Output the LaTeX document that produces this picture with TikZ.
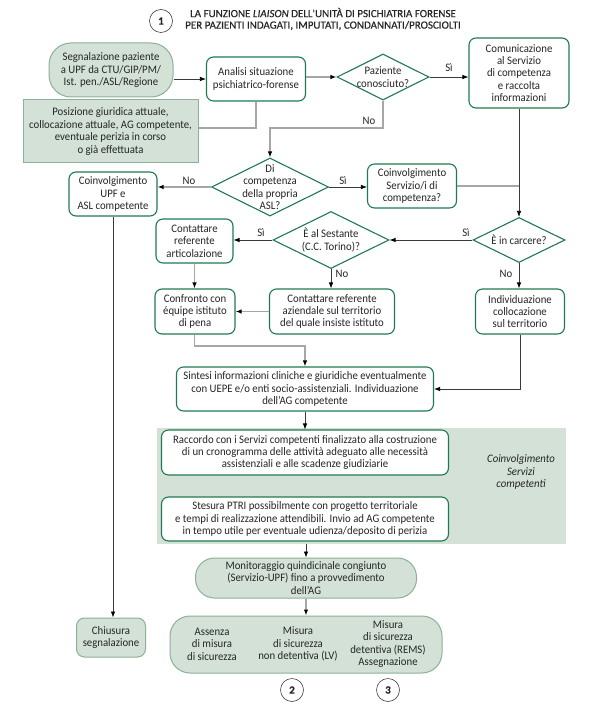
\documentclass[tikz,border=0pt]{standalone}
\usepackage{fontspec}
\setmainfont{Carlito}[FakeStretch=0.935]
\newfontfamily\titlefont{Carlito}[FakeBold=0.5]
\usetikzlibrary{shapes.geometric,arrows.meta}
\definecolor{gr}{HTML}{1E7B50}
\definecolor{fl}{HTML}{D3E1D6}
\definecolor{fb}{HTML}{8DB197}
\definecolor{ln}{HTML}{A6A6A6}
\definecolor{dk}{HTML}{3A3A3A}
\definecolor{tx}{HTML}{262626}
\begin{document}
\begin{tikzpicture}[x=1pt,y=-1pt, font=\fontsize{11.5}{12.4}\selectfont, text=tx,
 box/.style={draw=gr, line width=1.1pt, fill=white, rounded corners=7pt, align=center, inner sep=0pt},
 fbox/.style={draw=fb, line width=1pt, fill=fl, align=center, inner sep=0pt},
 dia/.style={diamond, draw=gr, line width=1.1pt, fill=white, inner sep=0pt},
 dtext/.style={align=center, inner sep=0pt},
 gl/.style={draw=ln, line width=1.3pt},
 dl/.style={draw=dk, line width=0.7pt},
 arr/.style={-{Latex[length=6pt,width=4.5pt,color=black]}},
 num/.style={circle, draw=black!75, line width=0.6pt, minimum size=23pt, inner sep=0pt, font=\titlefont\fontsize{11}{12}\selectfont\bfseries},
 lbl/.style={inner sep=0pt}
]
\useasboundingbox (0,0) rectangle (612,711);
% title
\node[num] (c1) at (161,21) {1};
\node[align=center, font=\titlefont\fontsize{11}{11.5}\selectfont] (tit) at (323,19) {LA FUNZIONE \textit{LIAISON} DELL'UNITÀ DI PSICHIATRIA FORENSE\\PER PAZIENTI INDAGATI, IMPUTATI, CONDANNATI/PROSCIOLTI};
% background
\node[fill=fl, minimum width=409pt, minimum height=116pt, inner sep=0pt] (bg) at (361.5,486) {};
% nodes
\node[fbox, rounded corners=22pt, minimum width=124pt, minimum height=54pt] (seg) at (111,70) {Segnalazione paziente\\a UPF da CTU/GIP/PM/\\Ist. pen./ASL/Regione};
\node[box, minimum width=99pt, minimum height=44pt] (ana) at (256,79) {Analisi situazione\\psichiatrico-forense};
\node[dia, minimum width=92pt, minimum height=46pt, label={[dtext]center:{Paziente\\conosciuto?}}] (paz) at (383,77) {};
\node[box, minimum width=100pt, minimum height=70pt] (com) at (519,73) {Comunicazione\\al Servizio\\di competenza\\e raccolta\\informazioni};
\node[fbox, minimum width=175pt, minimum height=63pt] (pos) at (110.5,131.5) {Posizione giuridica attuale,\\collocazione attuale, AG competente,\\eventuale perizia in corso\\o già effettuata};
\node[dia, minimum width=117pt, minimum height=58pt, label={[dtext]center:{Di\\competenza\\della propria\\ASL?}}] (dic) at (270,187) {};
\node[box, minimum width=88pt, minimum height=44pt] (upf) at (113,194) {Coinvolgimento\\UPF e\\ASL competente};
\node[box, minimum width=89pt, minimum height=44pt] (ser) at (412,186) {Coinvolgimento\\Servizio/i di\\competenza?};
\node[dia, minimum width=92pt, minimum height=45pt, label={[dtext]center:{È in carcere?}}] (car) at (519,240) {};
\node[dia, minimum width=116pt, minimum height=57pt, label={[dtext]center:{È al Sestante\\(C.C. Torino)?}}] (ses) at (331,240) {};
\node[box, minimum width=77pt, minimum height=44pt] (art) at (194.5,241) {Contattare\\referente\\articolazione};
\node[box, minimum width=125pt, minimum height=45pt] (azi) at (332,311.5) {Contattare referente\\aziendale sul territorio\\del quale insiste istituto};
\node[box, minimum width=80pt, minimum height=45pt] (con) at (195,311.5) {Confronto con\\équipe istituto\\di pena};
\node[box, minimum width=89pt, minimum height=45pt] (ind) at (520,311.5) {Individuazione\\collocazione\\sul territorio};
\node[box, minimum width=257pt, minimum height=44pt] (sin) at (305,389) {Sintesi informazioni cliniche e giuridiche eventualmente\\con UEPE e/o enti socio-assistenziali. Individuazione\\dell'AG competente};
\node[box, minimum width=287pt, minimum height=45pt] (rac) at (305,452.5) {Raccordo con i Servizi competenti finalizzato alla costruzione\\di un cronogramma delle attività adeguato alle necessità\\assistenziali e alle scadenze giudiziarie};
\node[box, minimum width=287pt, minimum height=44pt] (ste) at (305,519) {Stesura PTRI possibilmente con progetto territoriale\\e tempi di realizzazione attendibili. Invio ad AG competente\\in tempo utile per eventuale udienza/deposito di perizia};
\node[align=center, font=\fontsize{11.5}{12.4}\selectfont\itshape] (coi) at (521,472) {Coinvolgimento\\Servizi\\competenti};
\node[fbox, rounded corners=19pt, minimum width=221pt, minimum height=40pt] (mon) at (306,578) {Monitoraggio quindicinale congiunto\\(Servizio-UPF) fino a provvedimento\\dell'AG};
\node[fbox, rounded corners=20pt, minimum width=272pt, minimum height=57pt] (mis) at (306,644.5) {};
\node[dtext] (m1) at (212,644) {Assenza\\di misura\\di sicurezza};
\node[dtext] (m2) at (298,644) {Misura\\di sicurezza\\non detentiva (LV)};
\node[dtext] (m3) at (388,644) {Misura\\di sicurezza\\detentiva (REMS)\\Assegnazione};
\node[fbox, rounded corners=8pt, minimum width=69pt, minimum height=39pt] (chi) at (111,637.5) {Chiusura\\segnalazione};
\node[num] (c2) at (292,690) {2};
\node[num] (c3) at (388,690) {3};
% labels
\node[lbl] (l1) at (449,68) {Sì};
\node[lbl] (l2) at (369,121) {No};
\node[lbl] (l3) at (189,181) {No};
\node[lbl] (l4) at (343,181) {Sì};
\node[lbl] (l5) at (466,233) {Sì};
\node[lbl] (l6) at (261,233) {Sì};
\node[lbl] (l7) at (342,274) {No};
\node[lbl] (l8) at (506,274) {No};
% helper coordinates
\coordinate (k1) at (0,128);
\coordinate (k2) at (0,346);
% connectors
\draw[dl,arr] (seg.east |- ana.west) -- (ana.west);
\draw[gl,arr] (ana.east |- paz.west) -- (paz.west);
\draw[dl,arr] (paz.east) -- (paz.east -| com.west);
\draw[gl] (ana.south) -- (ana.south |- k1) -- (pos.east |- k1);
\draw[gl,arr] (paz.south) -- (paz.south |- k1) -- (dic.north |- k1) -- (dic.north);
\draw[dl,arr] (com.south) -- (car.north);
\draw[gl,arr] (dic.west) -- (dic.west -| upf.east);
\draw[dl,arr] (dic.east) -- (dic.east -| ser.west);
\draw[gl] (ser.east) -- (ser.east -| com.south);
\draw[dl,arr] (car.west) -- (ses.east);
\draw[dl,arr] (ses.west) -- (ses.west -| art.east);
\draw[gl,arr] (art.south) -- (art.south |- con.north);
\draw[dl,arr] (ses.south) -- (ses.south |- azi.north);
\draw[gl,arr] (azi.west) -- (con.east);
\draw[dl,arr] (car.south) -- (car.south |- ind.north);
\draw[dl,arr] (upf.south) -- (upf.south |- chi.north);
\draw[gl,arr] (art.south |- con.south) -- (art.south |- k2) -- (sin.north |- k2) -- (sin.north);
\draw[dl,arr] (ind.south) |- (sin.east);
\draw[dl,arr] (sin.south) -- (sin.south |- rac.north);
\draw[dl,arr] (mon.north |- bg.south) -- (mon.north);
\draw[gl,arr] (mon.south) -- (mis.north);
\end{tikzpicture}
\end{document}
